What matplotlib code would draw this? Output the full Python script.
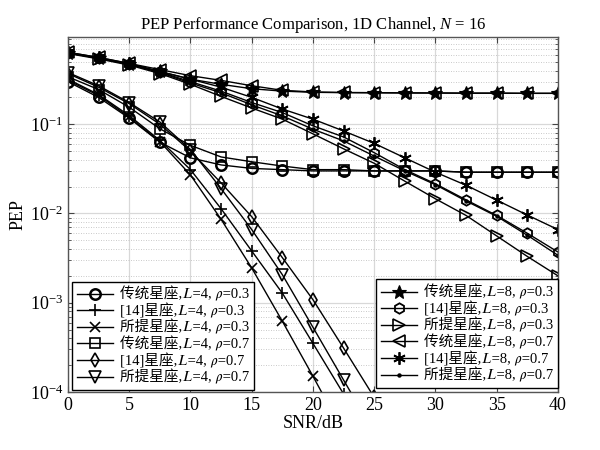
import matplotlib
matplotlib.use("Agg")
import matplotlib.pyplot as plt
import numpy as np

plt.rcParams['font.family'] = ['Liberation Serif', 'Noto Sans CJK SC', 'STIXGeneral', 'DejaVu Sans']
plt.rcParams['mathtext.fontset'] = 'custom'
plt.rcParams['mathtext.rm'] = 'Liberation Serif'
plt.rcParams['mathtext.it'] = 'Liberation Serif:italic'
plt.rcParams['axes.unicode_minus'] = False

snr = [0, 2.5, 5, 7.5, 10, 12.5, 15, 17.5, 20, 22.5, 25, 27.5, 30, 32.5, 35, 37.5, 40]

# L = 4
conv_L4_r03 = [0.30, 0.20, 0.117, 0.063, 0.042, 0.035, 0.032, 0.031, 0.030, 0.030, 0.030, 0.030, 0.030, 0.029, 0.029, 0.029, 0.029]
ref14_L4_r03 = [0.32, 0.215, 0.125, 0.066, 0.031, 0.0113, 0.0038, 0.00128, 0.00035, 0.000095]
prop_L4_r03 = [0.31, 0.21, 0.12, 0.064, 0.027, 0.0086, 0.00245, 0.00062, 0.00015, 0.000035]
conv_L4_r07 = [0.34, 0.245, 0.155, 0.089, 0.058, 0.043, 0.038, 0.034, 0.031, 0.031, 0.030, 0.030, 0.030, 0.029, 0.029, 0.029, 0.029]
ref14_L4_r07 = [0.37, 0.26, 0.17, 0.10, 0.050, 0.022, 0.0092, 0.0032, 0.00108, 0.00031, 0.000087]
prop_L4_r07 = [0.38, 0.27, 0.175, 0.106, 0.052, 0.019, 0.0066, 0.00206, 0.00053, 0.000136, 0.000035]

# L = 8
conv_L8_r03 = [0.63, 0.55, 0.47, 0.39, 0.32, 0.28, 0.25, 0.235, 0.228, 0.226, 0.225, 0.224, 0.224, 0.223, 0.223, 0.222, 0.222]
ref14_L8_r03 = [0.63, 0.55, 0.47, 0.385, 0.30, 0.235, 0.175, 0.135, 0.096, 0.072, 0.048, 0.031, 0.0215, 0.0142, 0.0095, 0.0060, 0.0037]
prop_L8_r03 = [0.62, 0.54, 0.46, 0.37, 0.28, 0.205, 0.152, 0.114, 0.078, 0.053, 0.0365, 0.023, 0.0146, 0.0095, 0.0056, 0.0033, 0.0020]
conv_L8_r07 = [0.64, 0.56, 0.48, 0.41, 0.35, 0.31, 0.27, 0.24, 0.23, 0.227, 0.226, 0.225, 0.224, 0.223, 0.223, 0.222, 0.222]
ref14_L8_r07 = [0.64, 0.56, 0.48, 0.39, 0.32, 0.26, 0.20, 0.148, 0.114, 0.084, 0.061, 0.042, 0.029, 0.0207, 0.0141, 0.0096, 0.0066]
prop_L8_r07 = [0.63, 0.55, 0.47, 0.38, 0.29, 0.225, 0.165, 0.124, 0.088, 0.065, 0.044, 0.030, 0.021, 0.0138, 0.0093, 0.0057, 0.0034]

IL = "\U0001D43F"   # mathematical italic L
IR = "\U0001D70C"   # mathematical italic rho
labels_L4 = [f"传统星座,{IL}=4, {IR}=0.3", f"[14]星座,{IL}=4, {IR}=0.3", f"所提星座,{IL}=4, {IR}=0.3",
             f"传统星座,{IL}=4, {IR}=0.7", f"[14]星座,{IL}=4, {IR}=0.7", f"所提星座,{IL}=4, {IR}=0.7"]
labels_L8 = [f"传统星座,{IL}=8, {IR}=0.3", f"[14]星座,{IL}=8, {IR}=0.3", f"所提星座,{IL}=8, {IR}=0.3",
             f"传统星座,{IL}=8, {IR}=0.7", f"[14]星座,{IL}=8, {IR}=0.7", f"所提星座,{IL}=8, {IR}=0.7"]

fig = plt.figure(figsize=(6, 4.5), dpi=100)
ax = fig.add_axes([0.1133, 0.1289, 0.8167, 0.7889])

def plot(y, marker, label, ms=7, filled=False, mew=1.2):
    n = len(y)
    return ax.plot(snr[:n], y, color='black', lw=1.0, marker=marker, ms=ms,
                   mfc=('black' if filled else 'none'), mec='black', mew=mew, label=label)[0]

h4 = [
    plot(conv_L4_r03, 'o', labels_L4[0], ms=7.5, mew=1.8),
    plot(ref14_L4_r03, '+', labels_L4[1], ms=8),
    plot(prop_L4_r03, 'x', labels_L4[2], ms=6.5),
    plot(conv_L4_r07, 's', labels_L4[3], ms=6.5),
    plot(ref14_L4_r07, 'd', labels_L4[4], ms=7.5),
    plot(prop_L4_r07, 'v', labels_L4[5], ms=8),
]
h8 = [
    plot(conv_L8_r03, '*', labels_L8[0], ms=10, filled=True, mew=0.8),
    plot(ref14_L8_r03, 'h', labels_L8[1], ms=7.5, mew=1.3),
    plot(prop_L8_r03, '>', labels_L8[2], ms=8),
    plot(conv_L8_r07, '<', labels_L8[3], ms=8),
    plot(ref14_L8_r07, (6, 2, 0), labels_L8[4], ms=9, mew=1.3),
    plot(prop_L8_r07, '.', labels_L8[5], ms=4, filled=True),
]

ax.set_yscale('log')
ax.set_xlim(0, 40)
ax.set_ylim(1e-4, 0.95)
ax.set_xticks([0, 5, 10, 15, 20, 25, 30, 35, 40])
ax.set_yticks([1e-4, 1e-3, 1e-2, 1e-1])
ax.set_yticklabels(['$10^{-4}$', '$10^{-3}$', '$10^{-2}$', '$10^{-1}$'])
ax.tick_params(axis='both', which='both', direction='in', top=True, right=True,
               labelsize=13, colors='#444444', labelcolor='black')
ax.tick_params(which='major', length=4)
ax.tick_params(which='minor', length=2.5)
ax.grid(True, which='major', color='#d8d8d8', lw=0.9, ls='-')
ax.grid(True, which='minor', axis='y', color='#b8b8b8', lw=0.6, ls=(0, (1, 2)))
ax.set_axisbelow(True)
for s in ax.spines.values():
    s.set_color('#555555')
    s.set_linewidth(1.0)

ax.set_xlabel('SNR/dB', fontsize=13, labelpad=1)
ax.set_ylabel('PEP', fontsize=13, labelpad=2)
ax.set_title('PEP Performance Comparison, 1D Channel, $N$ = 16', fontsize=12, pad=6)

common = dict(fontsize=10.5, frameon=True, fancybox=False, edgecolor='black', framealpha=1,
              handlelength=2.5, handletextpad=0.45, labelspacing=0.1, borderpad=0.35,
              borderaxespad=0)
leg1 = ax.legend(handles=h4, loc='lower left', bbox_to_anchor=(0.008, 0.006), **common)
leg1.get_frame().set_linewidth(1.0)
ax.add_artist(leg1)
leg2 = ax.legend(handles=h8, loc='lower right', bbox_to_anchor=(1.0, 0.012), **common)
leg2.get_frame().set_linewidth(1.0)

fig.savefig('out.png', dpi=100)
